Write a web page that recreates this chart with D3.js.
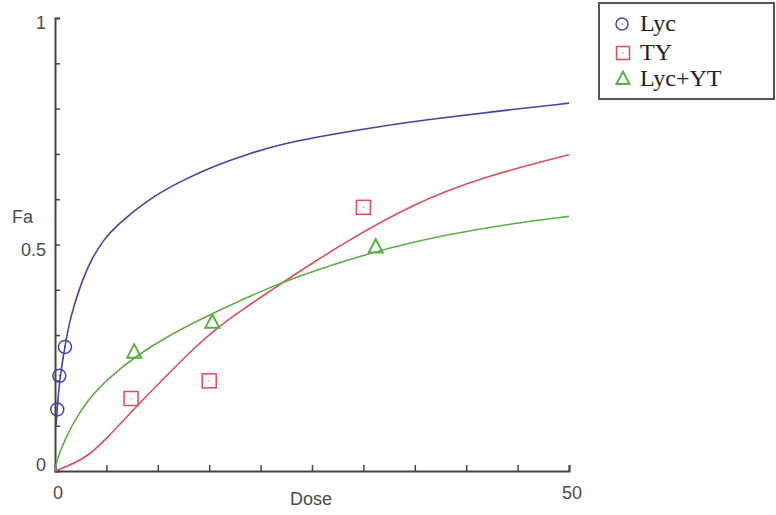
<!DOCTYPE html>
<html>
<head>
<meta charset="utf-8">
<script src="https://cdn.jsdelivr.net/npm/d3@7"></script>
<style>
  body { margin: 0; background: #fff; }
  svg { display: block; }
  .lbl { font-family: "Liberation Sans", Arial, sans-serif; font-size: 18px; fill: #4a4a4a; }
  .leg { font-family: "Liberation Serif", "Times New Roman", serif; font-size: 24px; fill: #222; }
</style>
</head>
<body>
<svg id="chart" width="776" height="515"></svg>
<script>
// ---------------------------------------------------------- data
var seriesNames = ["Lyc", "TY", "Lyc+YT"];
var xTicks = [0, 5, 10, 15, 20, 25, 30, 35, 40, 45, 50];
var xTickLabels = [0, 50];
var yTicks = [0, 0.1, 0.2, 0.3, 0.4, 0.5, 0.6, 0.7, 0.8, 0.9, 1];
var yTickLabels = [0, 0.5, 1];

// measured points
var lycDose = [0.22, 0.42, 0.97];
var lycFa = [0.136, 0.21, 0.274];
var tyDose = [7.4, 15.0, 30.0];
var tyFa = [0.16, 0.199, 0.582];
var comboDose = [7.7, 15.3, 31.2];
var comboFa = [0.262, 0.328, 0.494];

// fitted curves (traced)
var lycCurveDose = [0.1, 0.22, 0.45, 1.0, 1.5, 2.4, 3.4, 4.7, 6.0, 9.2, 12.5, 15.7, 19.0, 21.9, 24.8, 31.6, 37.1, 43.3, 50];
var lycCurveFa = [0.1, 0.14, 0.203, 0.28, 0.34, 0.405, 0.462, 0.51, 0.543, 0.602, 0.643, 0.675, 0.702, 0.72, 0.735, 0.761, 0.778, 0.795, 0.812];
var tyCurveDose = [0, 2.0, 3.2, 4.9, 7.8, 10.4, 13.0, 15.6, 18.2, 21.1, 23.2, 28.4, 34.9, 41.4, 50];
var tyCurveFa = [0, 0.018, 0.034, 0.068, 0.14, 0.2, 0.26, 0.313, 0.356, 0.4, 0.432, 0.508, 0.59, 0.648, 0.698];
var comboCurveDose = [0, 0.2, 0.65, 1.6, 3.2, 5.2, 7.8, 11.35, 14.9, 18.2, 22.5, 31.3, 38.1, 44.6, 50];
var comboCurveFa = [0, 0.025, 0.052, 0.1, 0.158, 0.205, 0.253, 0.303, 0.343, 0.378, 0.422, 0.487, 0.522, 0.547, 0.562];

var colors = { blue: "#4343a6", red: "#dc4d5a", green: "#5eae48" };

// ---------------------------------------------------------- scales
var svg = d3.select("#chart");
var x = d3.scaleLinear().domain([0, 50]).range([55, 569]);
var y = d3.scaleLinear().domain([0, 1]).range([471, 18]);

// ---------------------------------------------------------- axes
var axisColor = "#444";
svg.append("g").attr("transform", "translate(0," + y(0) + ")")
  .call(d3.axisTop(x).tickValues(xTicks).tickSize(6).tickFormat(""));
svg.append("g").attr("transform", "translate(" + x(0) + ",0)")
  .call(d3.axisRight(y).tickValues(yTicks).tickSize(5).tickFormat(""));
svg.selectAll(".domain").attr("stroke", axisColor).attr("stroke-width", 2);
svg.selectAll(".tick line").attr("stroke", axisColor).attr("stroke-width", 1.5);

svg.selectAll(".xlab").data(xTickLabels).join("text").attr("class", "lbl xlab")
  .attr("x", d => x(d) + 3).attr("y", 499).attr("text-anchor", "middle").text(d => d);
svg.selectAll(".ylab").data(yTickLabels).join("text").attr("class", "lbl ylab")
  .attr("x", 46).attr("y", d => d === 0 ? y(d) : y(d) + 11).attr("text-anchor", "end").text(d => d);

svg.append("text").attr("class", "lbl").attr("x", 311).attr("y", 505).attr("text-anchor", "middle").text("Dose");
svg.append("text").attr("class", "lbl").attr("x", 12).attr("y", 223).text("Fa");

// ---------------------------------------------------------- curves
var line = d3.line().x(d => x(d[0])).y(d => y(d[1])).curve(d3.curveBasis);
var curves = [
  { dose: lycCurveDose, fa: lycCurveFa, color: colors.blue },
  { dose: tyCurveDose, fa: tyCurveFa, color: colors.red },
  { dose: comboCurveDose, fa: comboCurveFa, color: colors.green }
];
svg.selectAll(".curve").data(curves).join("path").attr("class", "curve")
  .attr("d", c => line(c.dose.map((d, i) => [d, c.fa[i]])))
  .attr("fill", "none").attr("stroke", c => c.color).attr("stroke-width", 1.6);

// ---------------------------------------------------------- markers
function drawCircle(g, cx, cy, r) {
  g.append("circle").attr("cx", cx).attr("cy", cy).attr("r", r)
    .attr("fill", "none").attr("stroke", colors.blue).attr("stroke-width", 1.5);
  g.append("circle").attr("cx", cx).attr("cy", cy).attr("r", 0.8).attr("fill", colors.blue);
}
function drawSquare(g, cx, cy, s) {
  g.append("rect").attr("x", cx - s / 2).attr("y", cy - s / 2).attr("width", s).attr("height", s)
    .attr("fill", "none").attr("stroke", colors.red).attr("stroke-width", 1.5);
  g.append("circle").attr("cx", cx).attr("cy", cy).attr("r", 0.7).attr("fill", colors.red);
}
function drawTriangle(g, cx, cy, s) {
  var h = s * 0.95;
  g.append("path")
    .attr("d", "M" + cx + "," + (cy - h * 0.6) + "L" + (cx + s / 2) + "," + (cy + h * 0.4) + "L" + (cx - s / 2) + "," + (cy + h * 0.4) + "Z")
    .attr("fill", "none").attr("stroke", colors.green).attr("stroke-width", 2);
}

var marks = svg.append("g");
lycDose.forEach((d, i) => drawCircle(marks, x(d), y(lycFa[i]), 6.5));
tyDose.forEach((d, i) => drawSquare(marks, x(d), y(tyFa[i]), 14));
comboDose.forEach((d, i) => drawTriangle(marks, x(d), y(comboFa[i]), 14));

// ---------------------------------------------------------- legend
var legend = svg.append("g");
legend.append("rect").attr("x", 599).attr("y", 3).attr("width", 175).attr("height", 96)
  .attr("fill", "#fff").attr("stroke", "#555").attr("stroke-width", 2);
var rowY = [24, 53, 79];
drawCircle(legend, 622, rowY[0], 6);
drawSquare(legend, 623, rowY[1], 13);
drawTriangle(legend, 623, rowY[2], 13);
legend.selectAll(".leg").data(seriesNames).join("text").attr("class", "leg")
  .attr("x", 640).attr("y", (d, i) => rowY[i] + 7).text(d => d);
</script>
</body>
</html>
